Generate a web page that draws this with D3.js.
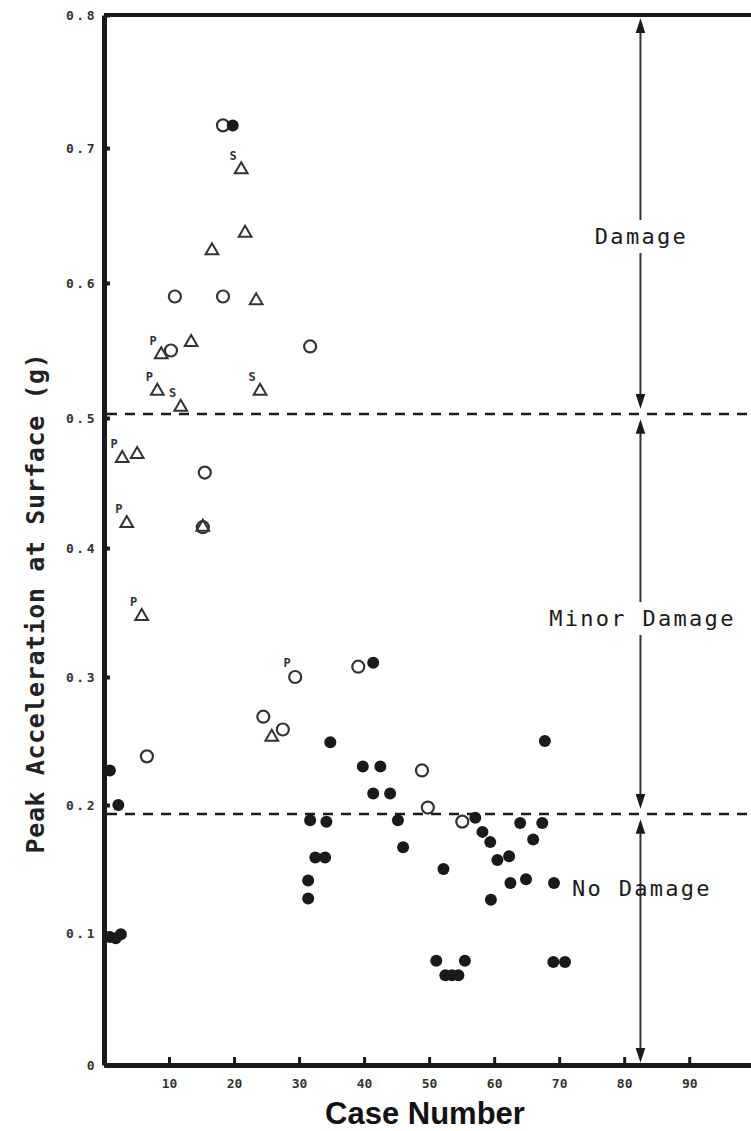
<!DOCTYPE html>
<html lang="en">
<head>
<meta charset="utf-8">
<script src="https://d3js.org/d3.v7.min.js"></script>
<style>
  body { margin: 0; background: #fff; }
  .mono { font-family: "DejaVu Sans Mono", monospace; }
</style>
</head>
<body>
<script>
// ---- data ----
// [case number, peak acceleration (g)]
var openCircles = [
  [18.3, 0.717], [10.9, 0.590], [18.3, 0.590], [31.7, 0.553], [10.3, 0.550],
  [15.5, 0.458], [15.2, 0.416], [29.4, 0.300], [39.1, 0.308], [24.5, 0.269],
  [27.5, 0.259], [6.6, 0.238], [48.9, 0.227], [49.8, 0.198], [55.1, 0.187]
];
var triangles = [
  [21.1, 0.684], [21.7, 0.637], [16.6, 0.624], [23.4, 0.587], [8.8, 0.547],
  [13.4, 0.556], [8.2, 0.520], [11.8, 0.508], [24.0, 0.520], [2.8, 0.469],
  [5.1, 0.472], [3.5, 0.419], [15.2, 0.416], [5.8, 0.347], [25.8, 0.253]
];
var filledCircles = [
  [19.8, 0.717], [41.4, 0.311], [34.8, 0.249], [39.8, 0.230], [42.5, 0.230],
  [41.4, 0.209], [44.0, 0.209], [31.7, 0.188], [34.2, 0.187], [45.2, 0.188],
  [46.0, 0.167], [32.5, 0.159], [34.0, 0.159], [31.4, 0.141], [31.4, 0.127],
  [52.2, 0.150], [57.1, 0.190], [58.2, 0.179], [59.4, 0.171], [60.5, 0.157],
  [62.3, 0.160], [59.5, 0.126], [62.5, 0.139], [64.9, 0.142], [64.0, 0.186],
  [67.4, 0.186], [66.0, 0.173], [67.8, 0.250], [69.2, 0.139], [51.1, 0.079],
  [55.5, 0.079], [52.5, 0.068], [53.5, 0.068], [54.5, 0.068], [69.1, 0.078],
  [70.9, 0.078], [0.9, 0.227], [2.2, 0.200], [0.9, 0.097], [1.8, 0.096],
  [2.6, 0.099]
];
// small letters written beside some points: [case, accel of the point, letter]
var notes = [
  [21.1, 0.684, "S"], [8.8, 0.547, "P"], [8.2, 0.520, "P"], [11.8, 0.508, "S"],
  [24.0, 0.520, "S"], [2.8, 0.469, "P"], [3.5, 0.419, "P"], [5.8, 0.347, "P"],
  [29.4, 0.300, "P"]
];

var xTicks = [10, 20, 30, 40, 50, 60, 70, 80, 90];
var yTicks = [0, 0.1, 0.2, 0.3, 0.4, 0.5, 0.6, 0.7, 0.8];
var zoneLimits = [0.8, 0.503, 0.193, 0];
var zoneNames = ["Damage", "Minor Damage", "No Damage"];
var zoneCase = 82.5;

// ---- layout ----
var w = 751, h = 1131;
var ink = "#1a1a1a";

var svg = d3.select("body").append("svg")
  .attr("width", w)
  .attr("height", h);

var x = d3.scaleLinear().domain([0, 99.5]).range([104, 751]);
// the scan is slightly uneven, so the tick marks are not evenly spaced
var y = d3.scaleLinear()
  .domain(yTicks)
  .range([1065, 933, 805, 677, 548, 418, 283, 148, 15]);

// top border
svg.append("line")
  .attr("x1", x(0)).attr("x2", w)
  .attr("y1", y(0.8)).attr("y2", y(0.8))
  .attr("stroke", ink).attr("stroke-width", 4);

// Y axis
var yAxis = d3.axisLeft(y)
  .tickValues(yTicks)
  .tickSizeInner(-6)
  .tickSizeOuter(0)
  .tickPadding(7)
  .tickFormat(function(d) { return d === 0 ? "0" : d3.format(".1f")(d); });

var gy = svg.append("g")
  .attr("transform", "translate(" + x(0) + ",0)")
  .call(yAxis);
gy.select(".domain").attr("stroke", ink).attr("stroke-width", 5);
gy.selectAll(".tick line").attr("stroke", ink).attr("stroke-width", 4);
gy.selectAll(".tick text")
  .attr("class", "mono")
  .attr("font-size", 13)
  .attr("font-weight", "bold")
  .attr("letter-spacing", 2.5)
  .attr("fill", "#333");

// X axis
var xAxis = d3.axisBottom(x)
  .tickValues(xTicks)
  .tickSizeInner(-8)
  .tickSizeOuter(0)
  .tickPadding(14);

var gx = svg.append("g")
  .attr("transform", "translate(0," + y(0) + ")")
  .call(xAxis);
gx.select(".domain").attr("stroke", ink).attr("stroke-width", 5);
gx.selectAll(".tick line").attr("stroke", ink).attr("stroke-width", 3);
gx.selectAll(".tick text")
  .attr("class", "mono")
  .attr("font-size", 13)
  .attr("font-weight", "bold")
  .attr("fill", "#333");

// axis titles
svg.append("text")
  .attr("x", 425)
  .attr("y", 1124)
  .attr("text-anchor", "middle")
  .attr("font-family", "Liberation Sans, Arial, sans-serif")
  .attr("font-weight", "bold")
  .attr("font-size", 31)
  .attr("fill", "#111")
  .text("Case Number");

svg.append("text")
  .attr("class", "mono")
  .attr("transform", "translate(44,603) rotate(-90)")
  .attr("text-anchor", "middle")
  .attr("font-size", 25)
  .attr("font-weight", "bold")
  .attr("letter-spacing", 0.6)
  .attr("fill", "#222")
  .text("Peak Acceleration at Surface (g)");

// zone boundaries (dashed)
svg.selectAll("line.limit")
  .data(zoneLimits.slice(1, 3))
  .enter()
  .append("line")
  .attr("class", "limit")
  .attr("x1", x(0) + 3).attr("x2", w)
  .attr("y1", function(d) { return y(d); })
  .attr("y2", function(d) { return y(d); })
  .attr("stroke", ink)
  .attr("stroke-width", 2.5)
  .attr("stroke-dasharray", "10,8");

// zone arrows
var zx = x(zoneCase);
var arrow = d3.symbol().type(d3.symbolTriangle).size(55);
zoneNames.forEach(function(name, i) {
  var yTop = y(zoneLimits[i]) + (i === 0 ? 4 : 6);
  var yBot = y(zoneLimits[i + 1]) - (i === 2 ? 3 : 6);
  svg.append("line")
    .attr("x1", zx).attr("x2", zx)
    .attr("y1", yTop + 4).attr("y2", yBot - 4)
    .attr("stroke", "#333")
    .attr("stroke-width", 2);
  svg.append("path")
    .attr("d", arrow)
    .attr("transform", "translate(" + zx + "," + (yTop + 9) + ") scale(0.85,1.5)")
    .attr("fill", ink);
  svg.append("path")
    .attr("d", arrow)
    .attr("transform", "translate(" + zx + "," + (yBot - 9) + ") scale(0.85,-1.5)")
    .attr("fill", ink);
});

// zone labels
function zoneLabel(txt, cx, cy, anchor, knockout) {
  var g = svg.append("g");
  var t = g.append("text")
    .attr("class", "mono")
    .attr("x", cx)
    .attr("y", cy)
    .attr("text-anchor", anchor)
    .attr("font-size", 22)
    .attr("letter-spacing", 2.3)
    .attr("fill", "#1a1a1a")
    .text(txt);
  if (knockout) {
    var b = t.node().getBBox();
    g.insert("rect", "text")
      .attr("x", b.x - 2).attr("y", b.y - 4)
      .attr("width", b.width + 4).attr("height", b.height + 8)
      .attr("fill", "#fff");
  }
}
zoneLabel(zoneNames[0], zx + 1, 244, "middle", true);
zoneLabel(zoneNames[1], zx + 2, 626, "middle", true);
zoneLabel(zoneNames[2], 572, 896, "start", false);

// points
svg.selectAll("circle.open")
  .data(openCircles)
  .enter()
  .append("circle")
  .attr("class", "open")
  .attr("cx", function(d) { return x(d[0]); })
  .attr("cy", function(d) { return y(d[1]); })
  .attr("r", 6)
  .attr("fill", "none")
  .attr("stroke", "#333")
  .attr("stroke-width", 2.2);

svg.selectAll("path.tri")
  .data(triangles)
  .enter()
  .append("path")
  .attr("class", "tri")
  .attr("d", d3.symbol().type(d3.symbolTriangle).size(70))
  .attr("transform", function(d) {
    return "translate(" + x(d[0]) + "," + y(d[1]) + ")";
  })
  .attr("fill", "none")
  .attr("stroke", "#333")
  .attr("stroke-width", 2);

svg.selectAll("circle.filled")
  .data(filledCircles)
  .enter()
  .append("circle")
  .attr("class", "filled")
  .attr("cx", function(d) { return x(d[0]); })
  .attr("cy", function(d) { return y(d[1]); })
  .attr("r", 6)
  .attr("fill", ink);

svg.selectAll("text.note")
  .data(notes)
  .enter()
  .append("text")
  .attr("class", "note mono")
  .attr("x", function(d) { return x(d[0]) - 8; })
  .attr("y", function(d) { return y(d[1]) - 10; })
  .attr("text-anchor", "middle")
  .attr("font-size", 12)
  .attr("font-weight", "bold")
  .attr("fill", "#333")
  .text(function(d) { return d[2]; });
</script>
</body>
</html>
